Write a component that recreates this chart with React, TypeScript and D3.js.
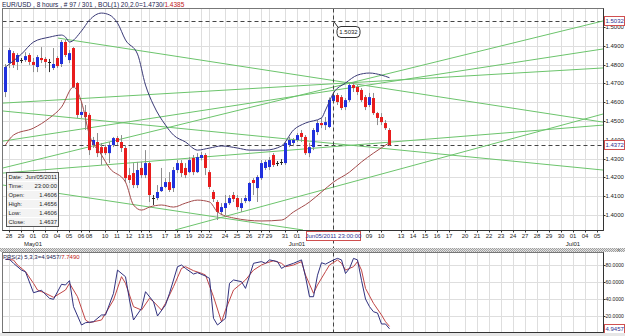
import React, { useEffect } from "react";
import * as d3 from "d3";

const W = 625;
const H = 336;

// 8-hour EUR/USD bars, index 0 = Apr 28 2011
const opens = [1.4654, 1.4808, 1.4861, 1.4814, 1.4824, 1.4824, 1.4851, 1.4814, 1.4787, 1.4835, 1.483, 1.4819, 1.4782, 1.4835, 1.4803, 1.492, 1.4824, 1.4888, 1.4702, 1.4532, 1.4548, 1.4532, 1.4372, 1.4388, 1.4361, 1.4361, 1.4329, 1.4372, 1.4409, 1.4388, 1.4356, 1.4212, 1.4223, 1.4159, 1.425, 1.4212, 1.4276, 1.4092, 1.409, 1.4127, 1.4149, 1.4175, 1.4143, 1.4239, 1.4276, 1.425, 1.4228, 1.4303, 1.4228, 1.4303, 1.4319, 1.4228, 1.4122, 1.4069, 1.4016, 1.4037, 1.4063, 1.4106, 1.409, 1.4037, 1.4074, 1.4074, 1.4186, 1.4143, 1.4196, 1.425, 1.4255, 1.4319, 1.4276, 1.428, 1.4276, 1.4372, 1.4383, 1.4399, 1.4436, 1.4415, 1.4329, 1.4361, 1.4441, 1.4489, 1.4478, 1.4468, 1.4606, 1.4638, 1.4627, 1.4574, 1.4611, 1.4691, 1.4681, 1.4665, 1.4627, 1.4585, 1.4622, 1.4542, 1.4521, 1.4489, 1.4452];
const highs = [1.4803, 1.4888, 1.4872, 1.4861, 1.4835, 1.4866, 1.4861, 1.4835, 1.4851, 1.4893, 1.484, 1.483, 1.4888, 1.4845, 1.4931, 1.4931, 1.4877, 1.4893, 1.4707, 1.4601, 1.4585, 1.4542, 1.4415, 1.4436, 1.4383, 1.4372, 1.4388, 1.4415, 1.442, 1.4425, 1.4372, 1.425, 1.4276, 1.4282, 1.4282, 1.4345, 1.4282, 1.4106, 1.4159, 1.425, 1.4196, 1.4228, 1.4255, 1.4292, 1.4292, 1.4276, 1.4308, 1.4319, 1.4329, 1.4335, 1.4329, 1.4239, 1.4133, 1.4079, 1.4063, 1.4106, 1.4106, 1.4122, 1.4106, 1.409, 1.4106, 1.4175, 1.4196, 1.4212, 1.4292, 1.4292, 1.4308, 1.4329, 1.4287, 1.4297, 1.4388, 1.4415, 1.4409, 1.4436, 1.4452, 1.4425, 1.4383, 1.4462, 1.4505, 1.4516, 1.4521, 1.4625, 1.4656, 1.4649, 1.4638, 1.4622, 1.4702, 1.4707, 1.4691, 1.4675, 1.4638, 1.4649, 1.4649, 1.4548, 1.4542, 1.4505, 1.4462];
const lows = [1.4627, 1.4782, 1.4782, 1.4771, 1.4808, 1.4814, 1.4798, 1.476, 1.476, 1.4808, 1.4782, 1.476, 1.4771, 1.4782, 1.4787, 1.484, 1.4808, 1.4675, 1.4516, 1.4516, 1.4452, 1.4319, 1.4356, 1.4308, 1.4266, 1.4319, 1.4276, 1.4361, 1.4372, 1.4335, 1.4175, 1.417, 1.4143, 1.4143, 1.4196, 1.4196, 1.4069, 1.4053, 1.4079, 1.4122, 1.4143, 1.4122, 1.4122, 1.4223, 1.4202, 1.4196, 1.4223, 1.4212, 1.4223, 1.429, 1.4212, 1.4138, 1.4069, 1.3973, 1.4, 1.4, 1.4053, 1.4069, 1.4026, 1.4016, 1.4063, 1.4069, 1.4106, 1.4069, 1.4186, 1.4239, 1.4239, 1.4255, 1.426, 1.4266, 1.4266, 1.4361, 1.4366, 1.4388, 1.4388, 1.4319, 1.4308, 1.4345, 1.4425, 1.4462, 1.4452, 1.4462, 1.4606, 1.4585, 1.4558, 1.4558, 1.4601, 1.4654, 1.4638, 1.4601, 1.4558, 1.4574, 1.4532, 1.4478, 1.4478, 1.4452, 1.4366];
const closes = [1.4787, 1.4877, 1.4798, 1.4851, 1.4826, 1.4845, 1.4814, 1.4798, 1.484, 1.4824, 1.4814, 1.4816, 1.4803, 1.4792, 1.492, 1.4851, 1.4861, 1.4681, 1.4532, 1.4548, 1.4521, 1.4345, 1.4399, 1.4329, 1.4329, 1.4329, 1.4372, 1.4409, 1.4388, 1.4356, 1.4196, 1.4186, 1.4159, 1.4239, 1.4212, 1.4276, 1.4106, 1.409, 1.4122, 1.4149, 1.4175, 1.4133, 1.4239, 1.4276, 1.4223, 1.4212, 1.4292, 1.4228, 1.4308, 1.4319, 1.425, 1.4149, 1.4085, 1.4016, 1.4042, 1.4063, 1.409, 1.4085, 1.4042, 1.4063, 1.409, 1.417, 1.417, 1.4202, 1.4276, 1.4282, 1.4292, 1.4266, 1.4274, 1.4282, 1.4383, 1.4399, 1.4399, 1.4425, 1.4415, 1.4329, 1.4361, 1.4452, 1.4489, 1.4478, 1.4494, 1.4612, 1.4637, 1.4601, 1.4569, 1.4611, 1.4691, 1.4675, 1.4654, 1.4611, 1.4574, 1.4627, 1.4542, 1.4516, 1.4494, 1.4462, 1.4372];

// Bollinger(20, 2) bands, read as [bar, price]
const bolUpper: [number, number][] = [[0, 1.4787], [4, 1.4856], [7, 1.492], [11, 1.4946], [14, 1.4957], [15, 1.4946], [16, 1.492], [19, 1.4979], [21, 1.5037], [24, 1.5074], [26, 1.5064], [28, 1.5021], [30, 1.4931], [33, 1.4856], [35, 1.4691], [37, 1.4585], [40, 1.4478], [42, 1.4425], [45, 1.4388], [48, 1.4345], [51, 1.4356], [54, 1.4367], [58, 1.4356], [61, 1.4345], [65, 1.4345], [69, 1.4367], [72, 1.4452], [75, 1.4489], [79, 1.4516], [80, 1.4558], [82, 1.4649], [85, 1.4702], [88, 1.4744], [91, 1.4755], [94, 1.4744], [96, 1.473]];
const bolLower: [number, number][] = [[0, 1.4372], [2, 1.4425], [7, 1.4462], [11, 1.4516], [14, 1.4574], [17, 1.4681], [19, 1.4601], [21, 1.4425], [24, 1.4319], [26, 1.425], [30, 1.4175], [32, 1.4053], [34, 1.4026], [36, 1.4042], [39, 1.4053], [42, 1.4042], [45, 1.4063], [48, 1.4079], [51, 1.4069], [53, 1.4016], [57, 1.3984], [64, 1.3968], [69, 1.3973], [72, 1.4016], [76, 1.4069], [79, 1.4122], [82, 1.4175], [86, 1.4228], [89, 1.4282], [92, 1.4329], [96, 1.4385]];

// trend lines: [bar0, price0, bar1, price1]
const trendLines: [number, number, number, number][] = [
  [13.25, 1.4941, 149.5, 1.4494],
  [-0.5, 1.4595, 149.5, 1.4782],
  [-0.5, 1.4553, 149.5, 1.4239],
  [-0.5, 1.4393, 149.5, 1.4883],
  [-0.5, 1.425, 149.5, 1.5032],
  [-0.5, 1.4223, 149.5, 1.4478],
  [-0.5, 1.4159, 74.5, 1.392],
  [42.5, 1.392, 149.5, 1.4537],
];

const hLevels = [1.5032, 1.4372];
const priceTicks = [1.4, 1.41, 1.42, 1.43, 1.44, 1.45, 1.46, 1.47, 1.48, 1.49, 1.5];

const dayTicks: [number, string][] = [[1, "28"], [4, "29"], [7, "01"], [10, "03"], [13, "04"], [16, "05"], [19, "06"], [21, "08"], [25, "10"], [28, "11"], [31, "12"], [34, "13"], [36, "15"], [40, "17"], [43, "18"], [46, "19"], [49, "20"], [51, "22"], [55, "24"], [58, "25"], [61, "26"], [64, "27"], [66, "29"], [70, "31"], [73, "01"], [76, "02"], [79, "03"], [82, "05"], [85, "06"], [88, "07"], [91, "09"], [94, "10"], [99, "13"], [102, "14"], [105, "15"], [108, "16"], [111, "17"], [115, "20"], [118, "21"], [121, "22"], [124, "23"], [127, "24"], [130, "27"], [133, "28"], [136, "29"], [139, "30"], [142, "01"], [145, "04"], [148, "05"]];
const monthTicks: [number, string][] = [[7, "May01"], [73, "Jun01"], [142, "Jul01"]];

const cursorBar = 82;
const cursorLabel = "Jun05/2011 23:00:00";
const cursorRows: [string, string][] = [["Date:", "Jun/05/2011"], ["Time:", "23:00:00"], ["Open:", "1.4606"], ["High:", "1.4656"], ["Low:", "1.4606"], ["Close:", "1.4637"]];

// stochastic 5,3,3
const stochK: [number, number][] = [[0, 86.7], [1, 86.7], [2, 82], [4, 74], [5, 72], [7, 47.4], [9, 50.2], [11, 40.8], [12, 39.6], [14, 57.3], [15, 56.5], [16, 61.6], [17, 31], [19, 9.4], [20, 12.1], [22, 13.3], [24, 21.2], [25, 21.2], [27, 46.7], [28, 74], [30, 66.2], [31, 38.8], [32, 15.3], [34, 29], [35, 48.6], [37, 36.8], [38, 20], [40, 33], [41, 46.7], [43, 78], [44, 80], [45, 76], [47, 69.4], [48, 71], [50, 67], [51, 64.3], [52, 17.3], [53, 9.4], [55, 17.3], [56, 58.4], [57, 62.4], [59, 60.4], [60, 52.5], [62, 82], [64, 84], [65, 82], [66, 86], [68, 84], [69, 76], [70, 78.8], [72, 82], [74, 86], [75, 66.2], [76, 42.7], [77, 42.7], [78, 68], [79, 82.7], [80, 81], [82, 86], [83, 87.8], [84, 86], [85, 70], [86, 76], [87, 87.8], [88, 86], [89, 62], [90, 40], [91, 31], [92, 25], [93, 23.5], [94, 10.6], [95, 10.6], [96, 4.9457]];
const stochD: [number, number][] = [[0, 86.7], [2, 85.9], [3, 80], [5, 72.2], [7, 58.4], [8, 50.6], [10, 46.7], [12, 42], [15, 50.6], [16, 58.4], [18, 42.7], [20, 15.3], [21, 12.2], [24, 15.3], [25, 23.1], [27, 38.8], [29, 66.3], [30, 58.4], [32, 31], [34, 27], [36, 40.8], [37, 36.9], [39, 27], [40, 34.9], [42, 54.5], [44, 76], [45, 78], [47, 73.3], [49, 70.2], [50, 68.2], [52, 42.7], [54, 13.3], [55, 27], [57, 50.6], [59, 58.4], [60, 62.4], [62, 74], [64, 80], [65, 82], [67, 85], [69, 82], [70, 78], [72, 80], [74, 84], [75, 68.2], [77, 46.7], [78, 56.5], [80, 72.2], [81, 80], [83, 85.9], [84, 82], [85, 74], [87, 78], [88, 84], [89, 74], [90, 52.5], [92, 34.9], [94, 21.2], [95, 13.3], [96, 7.749]];
const stochTicks = [20, 40, 60, 80];

const FONT = "'Liberation Sans', Arial, sans-serif";
const FS = 6;

export default function App() {
  useEffect(() => {
    document.body.style.margin = "0";
  }, []);

  const plot = { left: 2.5, right: 603.5, top: 8.5, bottom: 230.5 };
  const sub = { top: 252.5, bottom: 332.5 };

  const x = d3.scaleLinear().domain([0, 149.5]).range([5, 603]);
  const y = d3.scaleLinear().domain([1.392, 1.5101]).range([230, 8]);
  const ys = d3.scaleLinear().domain([20, 80]).range([316, 265]);

  const bandLine = d3.line<[number, number]>().x(d => x(d[0]) + 0.5).y(d => y(d[1])).curve(d3.curveMonotoneX);
  const stochLine = d3.line<[number, number]>().x(d => x(d[0]) + 0.5).y(d => ys(d[1]));

  const grid = "#dedede";
  const cx = x(cursorBar) + 0.5;
  const boxHalf = 27;
  // day labels hidden behind the cursor time box
  const visibleDays = dayTicks.filter(([b]) => Math.abs(x(b) - cx) > boxHalf + 3);

  const axisLabel = (key: string, yy: number, txt: string, boxed: boolean, col = "#222", fs = FS) => (
    <g key={key}>
      {boxed && <rect x={604.5} y={Math.round(yy) - 4.5} width={20} height={9} fill="#fff" stroke="#d05050" />}
      <text x={605.5} y={yy + 2.1} fontSize={fs} fill={col}>{txt}</text>
    </g>
  );

  return (
    <svg width={W} height={H} style={{ display: "block", background: "#fff" }} fontFamily={FONT}>
      <defs>
        <clipPath id="mainClip"><rect x={plot.left} y={plot.top} width={plot.right - plot.left} height={plot.bottom - plot.top} /></clipPath>
        <clipPath id="subClip"><rect x={plot.left} y={sub.top} width={plot.right - plot.left} height={sub.bottom - sub.top} /></clipPath>
        <pattern id="hatch" width="2" height="2" patternUnits="userSpaceOnUse">
          <rect width="2" height="2" fill="#e4e4e4" />
          <rect width="1" height="1" fill="#a0a0a0" />
          <rect x="1" y="1" width="1" height="1" fill="#a0a0a0" />
        </pattern>
      </defs>

      {/* title */}
      <text x={2} y={6.5} fontSize={6.5} fill="#1c1c50">
        EUR/USD , 8 hours , # 97 / 301 , BOL(1) 20,2.0=1.4730/<tspan fill="#c02020">1.4385</tspan>
      </text>

      {/* main grid */}
      <g clipPath="url(#mainClip)">
        {dayTicks.map(([b], i) => (
          <line key={"vg" + i} x1={Math.round(x(b)) + 0.5} x2={Math.round(x(b)) + 0.5} y1={plot.top} y2={plot.bottom} stroke={grid} />
        ))}
        {priceTicks.map((p, i) => (
          <line key={"hg" + i} x1={plot.left} x2={plot.right} y1={Math.round(y(p)) + 0.5} y2={Math.round(y(p)) + 0.5} stroke={grid} />
        ))}

        {/* horizontal level lines */}
        {hLevels.map((p, i) => (
          <line key={"hl" + i} x1={plot.left} x2={plot.right} y1={Math.round(y(p)) + 0.5} y2={Math.round(y(p)) + 0.5} stroke="#444" strokeDasharray="4,3" />
        ))}

        {/* trend lines */}
        {trendLines.map((t, i) => (
          <line key={"tl" + i} x1={x(t[0])} y1={y(t[1])} x2={x(t[2])} y2={y(t[3])} stroke="#6cc46c" strokeWidth={1} />
        ))}

        {/* candles */}
        {opens.map((o, i) => {
          const c = closes[i];
          const xc = x(i);
          const doji = Math.abs(c - o) < 0.00035;
          const top = y(Math.max(o, c));
          const bot = y(Math.min(o, c));
          const col = doji ? "#222" : c > o ? "#2030dd" : "#e81c1c";
          return (
            <g key={"c" + i}>
              <line x1={xc + 0.5} x2={xc + 0.5} y1={y(highs[i])} y2={y(lows[i])} stroke={doji ? "#333" : "#8e8e8e"} />
              {doji ? (
                <line x1={xc - 1} x2={xc + 2} y1={Math.round(y(c)) + 0.5} y2={Math.round(y(c)) + 0.5} stroke={col} />
              ) : (
                <rect x={xc - 1} y={top} width={3} height={Math.max(1, bot - top)} fill={col} />
              )}
            </g>
          );
        })}

        {/* bollinger */}
        <path d={bandLine(bolUpper) || ""} fill="none" stroke="#3a3a76" strokeWidth={1} />
        <path d={bandLine(bolLower) || ""} fill="none" stroke="#a24a4a" strokeWidth={1} />
      </g>

      {/* cursor line */}
      <line x1={cx} x2={cx} y1={plot.top} y2={sub.bottom} stroke="#444" strokeDasharray="4,3" />
      <line x1={cx} y1={y(1.5032)} x2={cx + 5} y2={y(1.5032) + 7} stroke="#333" />
      <rect x={cx + 3.5} y={26.5} width={23} height={11} rx={4} fill="#fff" stroke="#333" />
      <text x={cx + 15} y={34.3} fontSize={FS} textAnchor="middle" fill="#222">1.5032</text>

      {/* data window */}
      <rect x={6.5} y={172.5} width={52} height={54} fill="#f3f3f3" stroke="#555" />
      {cursorRows.map(([k, v], i) => (
        <g key={"cr" + i}>
          {i > 0 && <line x1={7} x2={58} y1={172.5 + i * 9} y2={172.5 + i * 9} stroke="#fff" />}
          <text x={8.5} y={179.3 + i * 9} fontSize={5.8} fill="#222">{k}</text>
          <text x={57} y={179.3 + i * 9} fontSize={5.8} fill="#222" textAnchor="end">{v}</text>
        </g>
      ))}

      {/* frame */}
      <rect x={plot.left} y={plot.top} width={plot.right - plot.left} height={plot.bottom - plot.top} fill="none" stroke="#777" />
      <line x1={plot.right} x2={plot.right} y1={plot.top} y2={plot.bottom} stroke="#333" />
      <line x1={plot.left} x2={plot.right} y1={plot.bottom} y2={plot.bottom} stroke="#333" />

      {/* price axis */}
      {priceTicks.map((p, i) => (
        <line key={"ptk" + i} x1={plot.right} x2={plot.right + 2} y1={Math.round(y(p)) + 0.5} y2={Math.round(y(p)) + 0.5} stroke="#333" />
      ))}
      {priceTicks.map((p, i) => axisLabel("pt" + i, y(p), p.toFixed(4), false))}
      {hLevels.map((p, i) => axisLabel("pl" + i, y(p), p.toFixed(4), true, "#303090"))}

      {/* time axis */}
      {dayTicks.map(([b], i) => (
        <line key={"dtk" + i} x1={Math.round(x(b)) + 0.5} x2={Math.round(x(b)) + 0.5} y1={plot.bottom} y2={plot.bottom + 2} stroke="#333" />
      ))}
      {visibleDays.map(([b, t], i) => (
        <text key={"dt" + i} x={x(b)} y={238} fontSize={FS} textAnchor="middle" fill="#222">{t}</text>
      ))}
      {monthTicks.map(([b, t], i) => (
        <text key={"mt" + i} x={x(b)} y={245.5} fontSize={FS} textAnchor="middle" fill="#222">{t}</text>
      ))}
      <rect x={cx - boxHalf} y={231.5} width={boxHalf * 2} height={9} fill="#fff" stroke="#d05050" />
      <text x={cx} y={238.2} fontSize={FS} textAnchor="middle" fill="#303090">{cursorLabel}</text>

      {/* separator */}
      <rect x={0} y={248} width={W} height={4} fill="url(#hatch)" />
      <text x={617} y={251.5} fontSize={5.5} fill="#666">×</text>

      {/* stochastic panel */}
      <g clipPath="url(#subClip)">
        {dayTicks.map(([b], i) => (
          <line key={"svg" + i} x1={Math.round(x(b)) + 0.5} x2={Math.round(x(b)) + 0.5} y1={sub.top} y2={sub.bottom} stroke={grid} />
        ))}
        {stochTicks.map((v, i) => (
          <line key={"shg" + i} x1={plot.left} x2={plot.right} y1={Math.round(ys(v)) + 0.5} y2={Math.round(ys(v)) + 0.5} stroke={grid} />
        ))}
        <line x1={cx} x2={cx} y1={sub.top} y2={sub.bottom} stroke="#444" strokeDasharray="4,3" />
        <path d={stochLine(stochD) || ""} fill="none" stroke="#c04545" strokeWidth={1} />
        <path d={stochLine(stochK) || ""} fill="none" stroke="#30307e" strokeWidth={1} />
      </g>
      <rect x={plot.left} y={sub.top} width={plot.right - plot.left} height={sub.bottom - sub.top} fill="none" stroke="#777" />
      <line x1={plot.right} x2={plot.right} y1={sub.top} y2={sub.bottom} stroke="#333" />
      <line x1={plot.left} x2={plot.right} y1={sub.bottom} y2={sub.bottom} stroke="#333" />
      <text x={3} y={258.5} fontSize={FS} fill="#1c1c50">
        PRS(2) 5,3,3=4.9457/<tspan fill="#c02020">7.7490</tspan>
      </text>
      {stochTicks.map((v, i) => (
        <line key={"stk" + i} x1={plot.right} x2={plot.right + 2} y1={Math.round(ys(v)) + 0.5} y2={Math.round(ys(v)) + 0.5} stroke="#333" />
      ))}
      {stochTicks.map((v, i) => axisLabel("st" + i, ys(v), v.toFixed(4), false, "#222", 5.1))}
      {axisLabel("skv", ys(4.9457), "4.9457", true, "#303090")}
      <rect x={0} y={333} width={W} height={3} fill="#e6e6e6" />
    </svg>
  );
}
